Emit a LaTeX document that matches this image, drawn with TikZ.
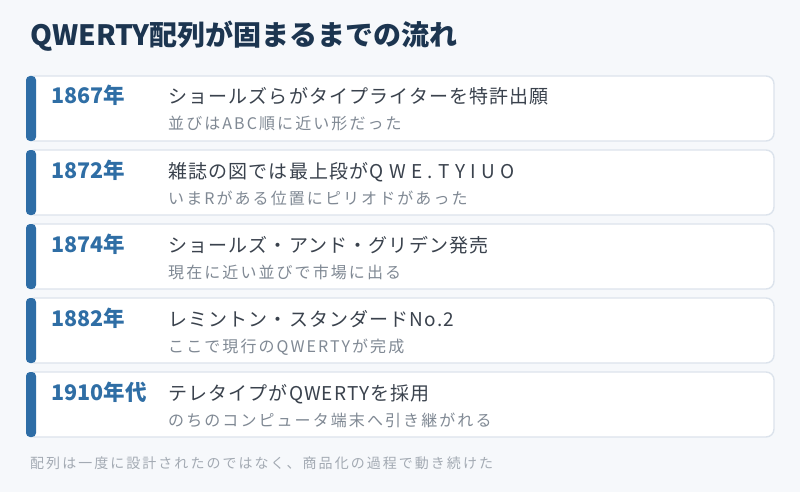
\documentclass[tikz,border=0pt]{standalone}
\usepackage{fontspec}
\setmainfont{Noto Sans CJK JP}
\begin{document}
\begin{tikzpicture}[x=1pt, y=-1pt,
	card/.style={fill=white, draw=cardline, line width=1.4pt, rounded corners=8pt},
	bar/.style={fill=barblue, rounded corners=4pt},
	title/.style={anchor=base west, inner sep=0pt, text=titlenavy, font=\fontsize{28}{32}\selectfont\bfseries},
	year/.style={anchor=base west, inner sep=0pt, text=yearblue, font=\fontsize{21.5}{24}\selectfont\bfseries},
	event/.style={anchor=base west, inner sep=0pt, text=eventgray, font=\fontsize{19}{22}\selectfont\addfontfeatures{LetterSpace=6}},
	note/.style={anchor=base west, inner sep=0pt, text=notegray, font=\fontsize{16}{19}\selectfont\addfontfeatures{LetterSpace=13}},
	footer/.style={anchor=base west, inner sep=0pt, text=footgray, font=\fontsize{14}{17}\selectfont\addfontfeatures{LetterSpace=14.5}}]
	\definecolor{bg}{HTML}{F6F8FB};
\definecolor{cardline}{HTML}{DCE3EC};
\definecolor{barblue}{HTML}{2E6DA6};
\definecolor{titlenavy}{HTML}{1C3550};
\definecolor{yearblue}{HTML}{2F6EA5};
\definecolor{eventgray}{HTML}{3A424D};
\definecolor{notegray}{HTML}{808994};
\definecolor{footgray}{HTML}{A3AAB3};

% \drawcard#index#y#year#event#note
\def\drawcard#1#2#3#4#5{
	\filldraw[card] (27, #2) rectangle (774, #2 + 65);
	\fill[bar] (26, #2) rectangle (36, #2 + 65);
	\node[year] (year#1) at (51, #2 + 28) {#3};
	\node[event] (event#1) at (168, #2 + 28) {#4};
	\node[note] (note#1) at (168, #2 + 54) {#5};
}

	% background
	\fill[bg] (0, 0) rectangle (800, 492);
	\useasboundingbox (0, 0) rectangle (800, 492);

	% title
	\node[title] (title) at (30, 46) {QWERTY配列が固まるまでの流れ};

	% cards
	\drawcard{1}{76}{1867年}{ショールズらがタイプライターを特許出願}{並びはABC順に近い形だった}
	\drawcard{2}{150}{1872年}{雑誌の図では最上段がQ W E . T Y I U O}{いまRがある位置にピリオドがあった}
	\drawcard{3}{224}{1874年}{ショールズ・アンド・グリデン発売}{現在に近い並びで市場に出る}
	\drawcard{4}{298}{1882年}{レミントン・スタンダードNo.2}{ここで現行のQWERTYが完成}
	\drawcard{5}{372}{1910年代}{テレタイプがQWERTYを採用}{のちのコンピュータ端末へ引き継がれる}

	% footer
	\node[footer] (footer) at (30, 468) {配列は一度に設計されたのではなく、商品化の過程で動き続けた};
\end{tikzpicture}
\end{document}
